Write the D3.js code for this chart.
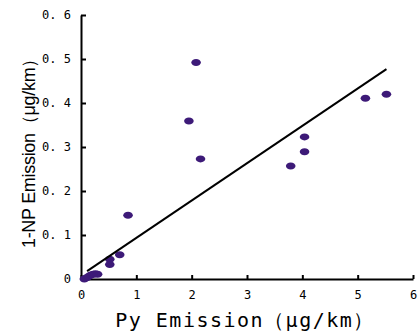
<!DOCTYPE html>
<html><head><meta charset="utf-8">
<script src="https://cdn.jsdelivr.net/npm/d3@7"></script>
<style>body{margin:0;background:#fff}svg{display:block}</style>
</head><body>
<script>
const pyX = [0.06, 0.1, 0.14, 0.18, 0.22, 0.26, 0.3, 0.52, 0.52, 0.7, 0.85, 1.95, 2.08, 2.16, 3.79, 4.04, 4.04, 5.14, 5.52];
const npY = [0.0, 0.003, 0.006, 0.009, 0.011, 0.012, 0.011, 0.045, 0.033, 0.055, 0.145, 0.359, 0.492, 0.273, 0.257, 0.289, 0.323, 0.411, 0.42];
const lineX = [0.11, 5.52];
const lineY = [0.018, 0.477];
const xTicks = [0, 1, 2, 3, 4, 5, 6];
const yTicks = [0, 0.1, 0.2, 0.3, 0.4, 0.5, 0.6];

const W = 418, H = 331;
const svg = d3.select("body").append("svg").attr("width", W).attr("height", H);
const x = d3.scaleLinear().domain([0, 6]).range([81, 413]);
const y = d3.scaleLinear().domain([0, 0.6]).range([279, 15]);

const fmtY = d => d === 0 ? "0" : d3.format(".1f")(d).replace(".", ". ");

const gx = svg.append("g").attr("transform", "translate(0,279)")
  .call(d3.axisBottom(x).tickValues(xTicks).tickSizeInner(-4).tickSizeOuter(0).tickPadding(11).tickFormat(d3.format("d")));
const gy = svg.append("g").attr("transform", "translate(81,0)")
  .call(d3.axisLeft(y).tickValues(yTicks).tickSizeInner(-5).tickSizeOuter(0).tickPadding(10).tickFormat(fmtY));
[gx, gy].forEach(g => {
  g.select(".domain").attr("stroke", "#000").attr("stroke-width", 2);
  g.selectAll(".tick line").attr("stroke", "#000").attr("stroke-width", 2);
  g.selectAll("text").attr("font-family", "DejaVu Sans Mono, monospace").attr("font-size", 12).attr("fill", "#000");
});

svg.append("g").selectAll("ellipse").data(pyX).join("ellipse")
  .attr("cx", (d, i) => x(d)).attr("cy", (d, i) => y(npY[i]))
  .attr("rx", 4.8).attr("ry", 3.5).attr("fill", "#3d1a78");

svg.append("line")
  .attr("x1", x(lineX[0])).attr("y1", y(lineY[0]))
  .attr("x2", x(lineX[1])).attr("y2", y(lineY[1]))
  .attr("stroke", "#000").attr("stroke-width", 2);

svg.append("text").attr("x", 245).attr("y", 327).attr("text-anchor", "middle")
  .attr("font-family", "DejaVu Sans Mono, monospace").attr("font-size", 20).attr("letter-spacing", 1.5).attr("fill", "#000")
  .text("Py Emission（μg/km）");

svg.append("text").attr("transform", "translate(35,149) rotate(-90)").attr("text-anchor", "middle")
  .attr("font-family", "Liberation Sans Narrow, Liberation Sans, sans-serif").attr("font-size", 18).attr("letter-spacing", -0.3).attr("fill", "#000")
  .text("1-NP Emission（μg/km）");
</script>
</body></html>
